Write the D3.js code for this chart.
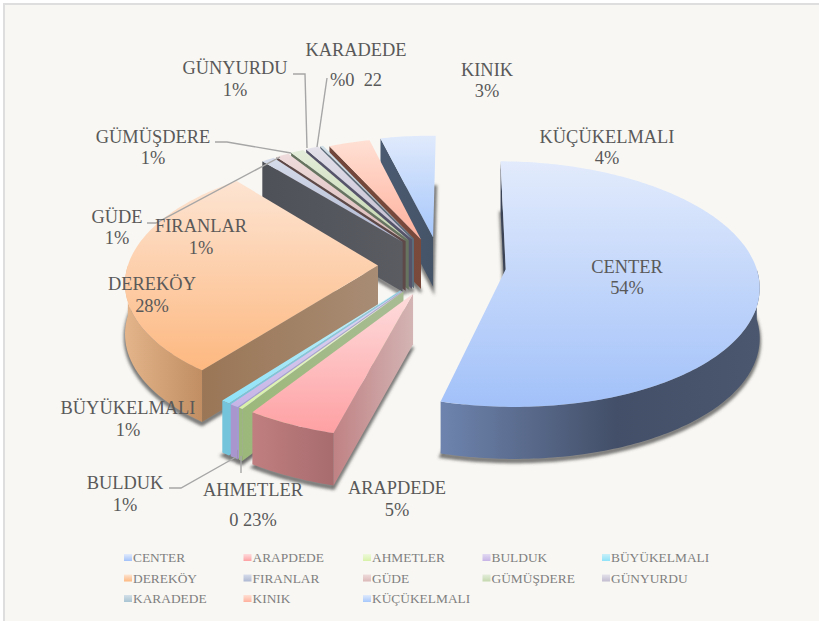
<!DOCTYPE html>
<html><head><meta charset="utf-8">
<script src="https://cdn.jsdelivr.net/npm/d3@7"></script>
<style>html,body{margin:0;padding:0;background:#fff}svg{display:block}text{font-family:"Liberation Serif",serif}</style>
</head><body><div id="c"></div>
<script>
const categories=["CENTER","ARAPDEDE","AHMETLER","BULDUK","BÜYÜKELMALI","DEREKÖY","FIRANLAR","GÜDE","GÜMÜŞDERE","GÜNYURDU","KARADEDE","KINIK","KÜÇÜKELMALI"];
const values=[53.2,5,0.23,0.5,0.5,28,0.95,0.95,0.95,0.95,0.22,3,4];
const labelValues=["54%","5%","0 23%","1%","1%","28%","1%","1%","1%","1%","%0  22","3%","4%"];
const topLight=["#e2ebfc","#fedcdc","#eef9dc","#e2daf2","#c8f0f8","#fde4d2","#d6dcea","#efdcdc","#e4edda","#e4e1ea","#d4e0e8","#ffe0d4","#e0eafc"];
const topDark =["#a2c1f9","#fea0a3","#d8f2a8","#c6b4e6","#8fe2f8","#fdb880","#aeb8d2","#dcb8b8","#c4d8ae","#c2bcd0","#a8c4d2","#ffb09c","#a6c7fb"];
const wallOuter=["#3a4456","#c08284","#9cb87a","#a896cc","#74c4dc","#9a7656","#4e5158","#5e4848","#667460","#56546a","#5c6c7a","#70453a","#4a5a70"];
const wallInner=["#3a4456","#d4b4b4","#a8bc94","#b4a8cc","#90c8dc","#a88c74","#5a5c62","#5e4848","#667460","#56546a","#5c6c7a","#7a4a3c","#465468"];
const rimStops={0:[[0,"#6e84ae"],[.55,"#434f68"],[1,"#4a576e"]],1:[[0,"#c07e80"],[1,"#a86c6e"]]};
const rimA=["#6e84ae","#b87a7c","#9cb87a","#a896cc","#74c4dc","#e4b48a","#5a6070","#806060","#708060","#6a6880","#607080","#8a5848","#4a5a70"];
const rimB=["#46536c","#b06c70","#9cb87a","#a896cc","#74c4dc","#c08e62","#5a6070","#806060","#708060","#6a6880","#607080","#8a5848","#4a5a70"];
const explode=[66,64,64,64,64,62,62,62,62,62,62,58,60];
const legendRows=[[0,1,2,3,4],[5,6,7,8,9],[10,11,12]];
const labelPos=[[627,267],[397,488],[253,490],[125,483],[128,408],[152,284],[201,226],[117,217],[153,137],[235,68],[356,50],[487,70],[607,137]];
const valueDy=[21,22,30,22,22,22,22,21,21,22,30,21,21];
const leaders=[[2,[[241,456],[241,473]]],[3,[[169,488],[181,488],[236,457]]],[7,[[147,223],[156,223],[280,157]]],[8,[[215,142],[227,142],[291,153]]],[9,[[293,74],[305,74],[307,148]]],[10,[[327,78],[317,147]]]];
const ox=440,oy=265,R=250,k=0.48,p=0.12,depth=50,rotation=0.5;
const W=819,H=621;
const svg=d3.select("#c").append("svg").attr("width",W).attr("height",H);
const defs=svg.append("defs");
defs.append("filter").attr("id","blur").attr("x","-10%").attr("y","-10%").attr("width","120%").attr("height","120%")
  .append("feGaussianBlur").attr("stdDeviation",1.6);
svg.append("rect").attr("x",3).attr("y",3).attr("width",W-3).attr("height",H-3).attr("fill","#dedede");
svg.append("rect").attr("x",5).attr("y",5).attr("width",W-5).attr("height",H-5).attr("fill","#f8f7f3");

const rad=d=>d*Math.PI/180;
const pie=d3.pie().sort(null).startAngle(rad(rotation)).endAngle(rad(rotation)+2*Math.PI);
const arcs=pie(values);
function scaleAt(V){return 1/(1+p*V/R);}
function proj(U,V,down){const s=scaleAt(V);return [ox+U*s,oy-V*k*s+(down?depth*Math.pow(s,.3):0)];}
function slicePt(i,a,r,down){const mid=(arcs[i].startAngle+arcs[i].endAngle)/2,e=explode[i];
  return proj(e*Math.sin(mid)+r*Math.sin(a),e*Math.cos(mid)+r*Math.cos(a),down);}
function angles(a0,a1){const n=Math.max(2,Math.ceil((a1-a0)/rad(1)));return d3.range(n+1).map(j=>a0+(a1-a0)*j/n);}
const line=d3.line().curve(d3.curveLinear);
const path=pts=>line(pts)+"Z";
function grad(id,x2,y2,stops){const g=defs.append("linearGradient").attr("id",id).attr("x1",0).attr("y1",0).attr("x2",x2).attr("y2",y2);
  stops.forEach(([o,c])=>g.append("stop").attr("offset",o).attr("stop-color",c));return `url(#${id})`;}

// painter's order: back slices first, CENTER last
const order=d3.range(categories.length).slice(1).reverse().concat([0]);
const gs=svg.append("g");
order.forEach(i=>{
  const a0=arcs[i].startAngle,a1=arcs[i].endAngle,g=gs.append("g");
  const topArc=angles(a0,a1).map(a=>slicePt(i,a,R,false));
  const apex=slicePt(i,0,0,false),apexB=slicePt(i,0,0,true);
  const baseArc=angles(a0,a1).map(a=>slicePt(i,a,R,true));
  g.append("path").attr("d",path([apexB,...baseArc])).attr("fill","#4a4a4a").attr("fill-opacity",.6)
    .attr("stroke","#4a4a4a").attr("stroke-opacity",.6).attr("stroke-width",3)
    .attr("transform","translate(0,3)").attr("filter","url(#blur)");
  // outer rim
  const ra=Math.max(a0,rad(90)),rb=Math.min(a1,rad(270));
  if(rb>ra){const as=angles(ra,rb);
    const stops=rimStops[i]||[[0,rimA[i]],[1,rimB[i]]];
    g.append("path").attr("d",path([...as.map(a=>slicePt(i,a,R,false)),...as.slice().reverse().map(a=>slicePt(i,a,R,true))]))
     .attr("fill",grad("rim"+i,1,0,stops));
  }
  // side wall that faces the viewer
  const o=slicePt(i,a0,R,false),b=slicePt(i,a0,R,true);
  g.append("path").attr("d",path([apex,o,b,apexB])).attr("fill",grad("wall"+i,1,0,[[0,wallOuter[i]],[1,wallInner[i]]]));
  // top face
  g.append("path").attr("d",path([apex,...topArc])).attr("fill",grad("top"+i,0,1,[[0,topLight[i]],[1,topDark[i]]]));
});

// leader lines
svg.append("g").selectAll("path").data(leaders).join("path").attr("d",d=>line(d[1])).attr("fill","none").attr("stroke","#a6a6a6").attr("stroke-width",1.4);
// data labels
const lg=svg.append("g").attr("font-size",18.4).attr("fill","#595959").attr("text-anchor","middle");
categories.forEach((c,i)=>{
  lg.append("text").attr("x",labelPos[i][0]).attr("y",labelPos[i][1]+6).text(c);
  lg.append("text").attr("x",labelPos[i][0]).attr("y",labelPos[i][1]+6+valueDy[i]).style("white-space","pre").text(labelValues[i]);
});
// legend
const colX=d3.scalePoint().domain(d3.range(5)).range([124,602]);
const rowY=d3.scalePoint().domain(d3.range(3)).range([558,599]);
const leg=svg.append("g");
legendRows.forEach((row,r)=>row.forEach((i,c)=>{
  leg.append("rect").attr("x",colX(c)).attr("y",rowY(r)-4).attr("width",8).attr("height",7).attr("fill",grad("leg"+i,0,1,[[0,topLight[i]],[1,topDark[i]]]));
  leg.append("text").attr("x",colX(c)+9).attr("y",rowY(r)+4).attr("font-size",13.4).attr("fill","#7f7f7f").text(categories[i]);
}));
</script></body></html>
